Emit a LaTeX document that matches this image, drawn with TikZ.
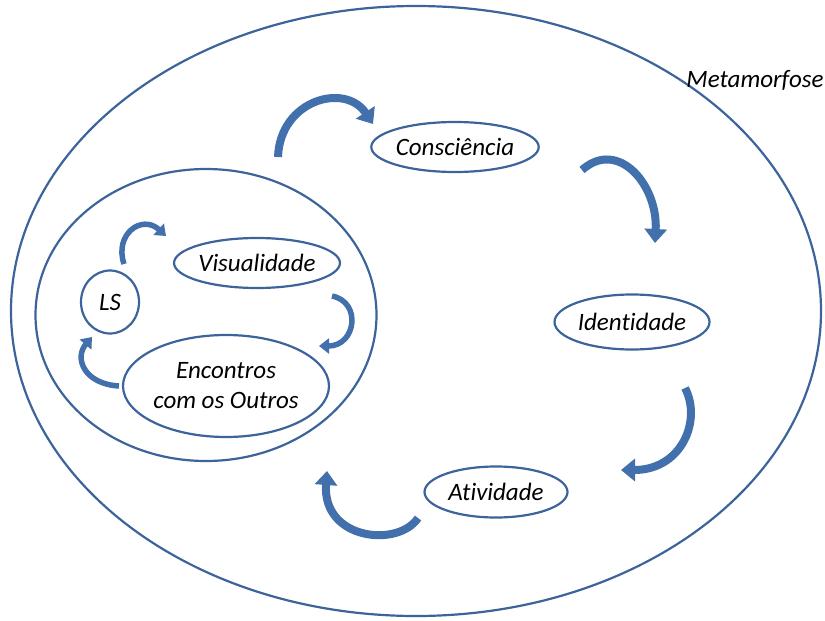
\documentclass[tikz,border=0pt]{standalone}
\usepackage{fontspec}
\setmainfont[Ligatures=NoCommon]{Carlito}
\usetikzlibrary{arrows.meta}
\usetikzlibrary{shapes.geometric}
\definecolor{rim}{RGB}{60,100,155}
\definecolor{flowblue}{RGB}{66,112,172}

\begin{document}
\begin{tikzpicture}[x=1pt,y=-1pt,
  main node/.style={ellipse,draw=rim,line width=2.2pt,inner sep=0pt,
    font=\itshape\fontsize{25}{30}\selectfont},
  flow/.style={draw=flowblue,line width=8pt,-{Triangle[width=22pt,length=14pt]}},
  small flow/.style={draw=flowblue,line width=5.5pt,-{Triangle[width=15pt,length=10pt]}}]

  \useasboundingbox (0,0) rectangle (825,621);

  \node[main node,minimum width=810pt,minimum height=610pt] (world) at (416,311) {};
  \node[main node,minimum width=341pt,minimum height=292pt] (inner) at (206,315) {};
  \node[font=\itshape\fontsize{25}{30}\selectfont] (meta) at (755,80) {Metamorfose};

  \node[main node,minimum width=154pt,minimum height=50pt] (consc) at (455,147) {Consciência};
  \node[main node,minimum width=155pt,minimum height=55pt] (ident) at (632,322) {Identidade};
  \node[main node,minimum width=143pt,minimum height=51pt] (ativ) at (496,492) {Atividade};
  \node[main node,minimum width=154pt,minimum height=50pt] (visual) at (257,263) {Visualidade};
  \node[main node,minimum width=58pt,minimum height=63pt] (ls) at (110,302) {LS};
  \node[main node,minimum width=206pt,minimum height=102pt,align=center] (encontros) at (226,386) {Encontros\\com os Outros};

  % arrow ends
  \coordinate (a1) at (278,157);
  \coordinate (b1) at (373,124);
  \coordinate (a2) at (582,170);
  \coordinate (b2) at (655,243);
  \coordinate (a3) at (685,388);
  \coordinate (b3) at (621,470);
  \coordinate (a4) at (418,518);
  \coordinate (b4) at (327,471);
  \coordinate (a5) at (124,264);
  \coordinate (b5) at (166,236);
  \coordinate (a6) at (332,296);
  \coordinate (b6) at (319,346);
  \coordinate (a7) at (119,386);
  \coordinate (b7) at (92,337);

  \draw[flow] (a1) .. controls (280,100) and (345,82) .. (b1);
  \draw[flow] (a2) .. controls (618,138) and (658,185) .. (b2);
  \draw[flow] (a3) .. controls (702,420) and (682,470) .. (b3);
  \draw[flow] (a4) .. controls (398,548) and (322,540) .. (b4);
  \draw[small flow] (a5) .. controls (114,234) and (142,214) .. (b5);
  \draw[small flow] (a6) .. controls (362,302) and (356,346) .. (b6);
  \draw[small flow] (a7) .. controls (84,384) and (74,358) .. (b7);
\end{tikzpicture}
\end{document}
